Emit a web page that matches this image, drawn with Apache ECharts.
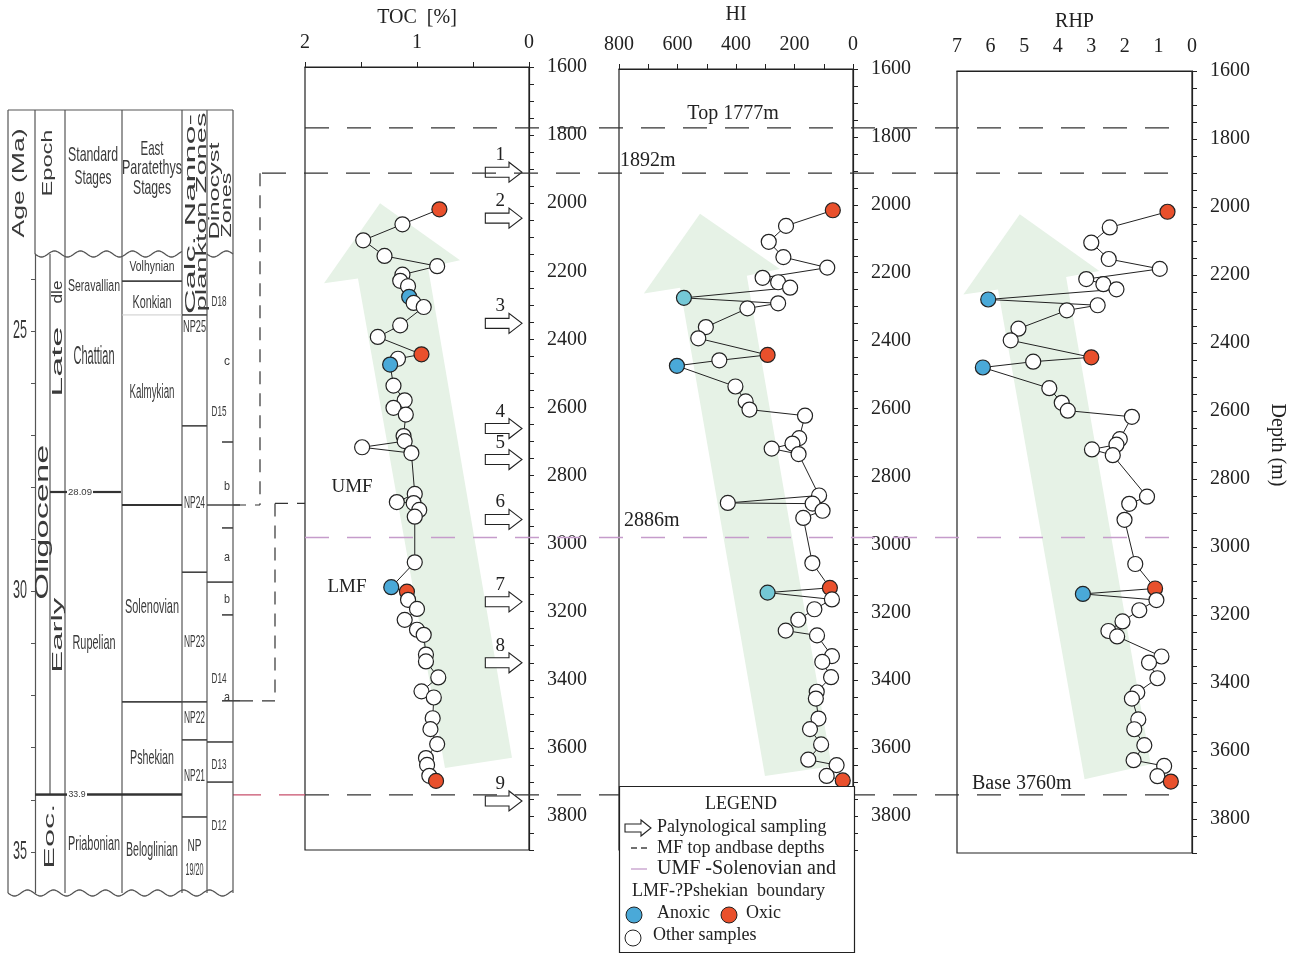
<!DOCTYPE html>
<html><head><meta charset="utf-8">
<script src="https://cdn.jsdelivr.net/npm/echarts@6/dist/echarts.min.js"></script>
<style>html,body{margin:0;padding:0;background:#fff}#c{width:1299px;height:955px}</style>
</head><body><div id="c"></div><script>
// ---------------- DATA ----------------
// sample class: n = other, a = anoxic, c = anoxic (light), o = oxic
const tocDepth = [2018,2062,2109,2155,2185,2210,2228,2244,2275,2293,2305,2359,2393,2444,2457,2474,2536,2579,2601,2621,2684,2699,2717,2734,2854,2878,2881,2901,2921,3055,3128,3141,3165,3192,3224,3253,3268,3326,3346,3393,3434,3452,3513,3545,3589,3630,3650,3682,3697];
const tocValue = [0.80,1.13,1.48,1.29,0.82,1.13,1.15,1.08,1.07,1.03,0.94,1.15,1.35,0.96,1.17,1.24,1.21,1.11,1.21,1.10,1.12,1.11,1.49,1.05,1.02,1.18,1.03,0.98,1.02,1.02,1.23,1.09,1.08,1.00,1.11,1.00,0.94,0.92,0.92,0.81,0.96,0.85,0.86,0.88,0.82,0.92,0.91,0.89,0.83];
const tocClass = ['o','n','n','n','n','n','n','n','a','n','n','n','n','o','n','a','n','n','n','n','n','n','n','n','n','n','n','n','n','n','a','o','n','n','n','n','n','n','n','n','n','n','n','n','n','n','n','n','o'];

const hiDepth = [2016,2062,2109,2154,2185,2215,2228,2244,2274,2290,2305,2360,2393,2442,2458,2474,2535,2579,2603,2621,2687,2703,2718,2734,2856,2878,2880,2901,2922,3055,3128,3142,3162,3191,3222,3254,3268,3329,3346,3391,3434,3454,3513,3544,3589,3634,3650,3682,3695];
const hiValue = [69,229,288,238,88,309,256,215,578,256,361,503,529,292,457,602,402,367,354,164,184,207,278,186,116,428,138,104,170,139,79,292,72,132,187,230,123,72,105,75,124,127,118,147,109,153,56,90,35];
const hiClass = ['o','n','n','n','n','n','n','n','c','n','n','n','n','o','n','a','n','n','n','n','n','n','n','n','n','n','n','n','n','n','o','c','n','n','n','n','n','n','n','n','n','n','n','n','n','n','n','n','o'];

const rhpDepth = [2014,2060,2105,2153,2182,2212,2227,2242,2272,2289,2304,2358,2392,2442,2455,2472,2533,2576,2599,2617,2683,2699,2713,2730,2852,2873,2920,3050,3122,3138,3156,3186,3219,3247,3263,3322,3340,3386,3428,3446,3507,3536,3583,3627,3644,3674,3690];
const rhpValue = [0.73,2.45,3.00,2.48,0.96,3.15,2.64,2.25,6.07,2.81,3.73,5.17,5.40,3.00,4.73,6.23,4.25,3.88,3.70,1.79,2.15,2.25,2.98,2.36,1.34,1.87,2.01,1.69,1.10,3.25,1.06,1.57,2.07,2.49,2.23,0.91,1.28,1.03,1.63,1.79,1.60,1.72,1.42,1.74,0.83,1.03,0.63];
const rhpClass = ['o','n','n','n','n','n','n','n','a','n','n','n','n','o','n','a','n','n','n','n','n','n','n','n','n','n','n','n','o','a','n','n','n','n','n','n','n','n','n','n','n','n','n','n','n','n','o'];

// palynological sampling depths (m) and their numbers
const samplingDepth = [1909,2044,2353,2662,2753,2929,3171,3350,3756];
const samplingLabel = ['1','2','3','4','5','6','7','8','9'];

// marker-fauna depth lines (m) and labels
const mfTopDepth = 1779, mfTopLabel = 'Top 1777m';
const mf2Depth = 1912, mf2Label = '1892m';
const boundaryDepth = 2982, boundaryLabel = '2886m';
const mfBaseDepth = 3738, mfBaseLabel = 'Base 3760m';
const umfBaseDepth = 2882;

// trend arrows (value, depth) outlines
const arrowToc = [[1.33,2000],[0.616,2168],[0.902,2188],[0.152,3629],[0.75,3659],[1.527,2221],[1.83,2235]];
const arrowHi  = [[523,2026],[250,2189],[363,2209],[73,3653],[301,3682],[591,2244],[715,2261]];
const arrowRhp = [[5.13,2021],[2.76,2188],[3.75,2206],[1.23,3639],[3.20,3683],[5.78,2243],[6.81,2257]];

// stratigraphic column (ages in Ma)
const ageTicks = [24,25,26,27,28,29,30,31,32,33,34,35];
const ageLabels = [25,30,35];
const stdStageNames = ['Seravallian','Chattian','Rupelian','Priabonian'];
const stdStageAges  = [24.15,25.5,30.99,34.87];
const paraStageNames = ['Volhynian','Konkian','Kalmykian','Solenovian','Pshekian','Beloglinian'];
const paraStageAges  = [23.77,24.46,26.19,30.30,33.2,34.96];
const paraBounds = [24.04,32.12];
const konkianBase = 24.69;
const kalmykianBase = 28.34;
const nannoNames = ['NP25','NP24','NP23','NP22','NP21','NP','19/20'];
const nannoAges  = [24.92,28.3,30.97,32.43,33.56,34.89,35.35];
const nannoBounds = [24.69,26.82,29.63,32.12,32.85,34.33];
const dinoNames = ['D18','c','D15','b','a','b','D14','a','D13','D12'];
const dinoAges  = [24.44,25.59,26.55,27.99,29.34,30.16,31.68,32.03,33.33,34.5];
const dinoBounds = [28.34,29.82,32.89,33.66];
const dinoTicks = [27.13,28.78,30.45,32.10];
const epochNames = ['Oligocene','Late','dle','Early','Eoc.'];
const epochAges  = [28.67,25.59,24.25,30.84,34.7];
const lateEarlyAge = 28.09, eoceneOligoceneAge = 33.9;

// ---------------- RENDER ----------------
const SERIF = '"Liberation Serif", "Times New Roman", serif';
const INK = '#222';
const COLORS = {o:'#e9502c', a:'#4aa9d8', c:'#74c8d6', n:'#ffffff'};

const chart = echarts.init(document.getElementById('c'), null, {renderer:'canvas'});

function pointSeries(i, depths, vals, cls) {
  return {
    type:'line', xAxisIndex:i, yAxisIndex:i, z:5,
    data: depths.map((d,k)=>({value:[vals[k], d], itemStyle:{color:COLORS[cls[k]]}})),
    symbol:'circle', symbolSize:15, showSymbol:true,
    lineStyle:{color:INK, width:1},
    itemStyle:{borderColor:INK, borderWidth:1.2},
    emphasis:{disabled:true}, silent:true
  };
}
function arrowSeries(i, pts) {
  return {
    type:'custom', xAxisIndex:i, yAxisIndex:i, z:1, silent:true,
    data:[[0,0]],
    renderItem:(p, api)=>({type:'polygon', shape:{points:pts.map(q=>api.coord(q))}, style:{fill:'#e6f2e6'}})
  };
}
function depthAxis(gi) {
  return {
    type:'value', gridIndex:gi, inverse:true, min:1600, max:3900, interval:200, position:'right',
    axisLine:{show:true, onZero:false, lineStyle:{color:INK, width:1.2}},
    axisTick:{show:true, length:5, lineStyle:{color:INK}},
    minorTick:{show:true, splitNumber:4, length:5, lineStyle:{color:INK}},
    axisLabel:{show:true, margin:18, fontFamily:SERIF, fontSize:20, color:INK, showMaxLabel:false, formatter:v=>String(v)},
    splitLine:{show:false}
  };
}
const topName = {fontFamily:SERIF, fontSize:20, color:INK};

const option = {
  animation:false,
  backgroundColor:'#fff',
  grid:[
    {left:305, top:67, width:224, height:783, show:true, borderColor:INK, borderWidth:1.2},
    {left:619, top:67, width:234, height:783, show:true, borderColor:INK, borderWidth:1.2},
    {left:957, top:71, width:235, height:782, show:true, borderColor:INK, borderWidth:1.2},
    {left:35, top:254, width:198, height:639, show:false}
  ],
  xAxis:[
    {type:'value', gridIndex:0, position:'top', inverse:true, min:0, max:2, interval:0.5,
     axisLine:{show:true, onZero:false, lineStyle:{color:INK, width:1.2}},
     axisTick:{show:true, length:5, lineStyle:{color:INK}},
     axisLabel:{margin:14, fontFamily:SERIF, fontSize:20, color:INK, formatter:v=>Number.isInteger(v)?String(v):''},
     splitLine:{show:false},
     name:'TOC  [%]', nameLocation:'middle', nameGap:38, nameTextStyle:topName},
    {type:'value', gridIndex:1, position:'top', inverse:true, min:0, max:800, interval:100,
     axisLine:{show:true, onZero:false, lineStyle:{color:INK, width:1.2}},
     axisTick:{show:true, length:5, lineStyle:{color:INK}},
     axisLabel:{margin:14, fontFamily:SERIF, fontSize:20, color:INK, formatter:v=>(v%200===0)?String(v):''},
     splitLine:{show:false},
     name:'HI', nameLocation:'middle', nameGap:44, nameTextStyle:topName},
    {type:'value', gridIndex:2, position:'top', inverse:true, min:0, max:7, interval:1,
     axisLine:{show:true, onZero:false, lineStyle:{color:INK, width:1.2}},
     axisTick:{show:false},
     axisLabel:{margin:14, fontFamily:SERIF, fontSize:20, color:INK},
     splitLine:{show:false},
     name:'RHP', nameLocation:'middle', nameGap:37, nameTextStyle:topName},
    {type:'value', gridIndex:3, show:false, min:0, max:1}
  ],
  yAxis:[
    depthAxis(0),
    depthAxis(1),
    depthAxis(2),
    {type:'value', gridIndex:3, inverse:true, min:23.52, max:35.79, position:'left',
     axisLine:{show:true, onZero:false, lineStyle:{color:'#555', width:1.2}},
     axisTick:{show:true, length:4, inside:false, customValues:ageTicks, lineStyle:{color:'#555'}},
     axisLabel:{show:false}, splitLine:{show:false}}
  ],
  series:[
    arrowSeries(0, arrowToc), arrowSeries(1, arrowHi), arrowSeries(2, arrowRhp),
    pointSeries(0, tocDepth, tocValue, tocClass),
    pointSeries(1, hiDepth, hiValue, hiClass),
    pointSeries(2, rhpDepth, rhpValue, rhpClass),
    {type:'custom', xAxisIndex:0, yAxisIndex:0, z:6, silent:true,
     data: samplingDepth.map(d=>[0,d]),
     renderItem:(params, api)=>{
       const d = api.value(1);
       const p0 = api.coord([0.39, d]), p1 = api.coord([0.0625, d]);
       const x0=p0[0], x1=p1[0], y=p0[1], xh=x1-13;
       return {type:'group', children:[
         {type:'polygon', shape:{points:[[x0,y-5],[xh,y-5],[xh,y-10],[x1,y],[xh,y+10],[xh,y+5],[x0,y+5]]},
          style:{fill:'#fff', stroke:INK, lineWidth:1.1}},
         {type:'text', x:x0+15, y:y-17, style:{text:samplingLabel[params.dataIndex], font:'19px '+SERIF, fill:INK, align:'center', verticalAlign:'middle'}}
       ]};
     }}
  ]
};
chart.setOption(option);

// ---------------- ANNOTATIONS ----------------
const yD = d => chart.convertToPixel({yAxisIndex:0}, d);
const yA = a => chart.convertToPixel({yAxisIndex:3}, a);
const G = [];
function L(x1,y1,x2,y2,stroke,w,dash,z){ G.push({type:'line', silent:true, z:z||20, shape:{x1,y1,x2,y2}, style:{stroke, lineWidth:w, lineDash:dash||null}}); }
function T(str,x,y,size,align,rot){ G.push({type:'text', silent:true, z:30, x, y, rotation:rot||0, style:{text:str, font:size+'px '+SERIF, fill:INK, align:align||'left', textAlign:align||'left', verticalAlign:'middle', textVerticalAlign:'middle'}}); }

// depth axis title
T('Depth (m)',1277,445,20,'center',-Math.PI/2);

// dashed depth lines
const DASH=[24,18];
L(305,yD(mfTopDepth),1182,yD(mfTopDepth),'#333',1.3,DASH);
L(262,yD(mf2Depth),1182,yD(mf2Depth),'#333',1.3,DASH);
L(305,yD(boundaryDepth),1182,yD(boundaryDepth),'#c59ccb',1.6,DASH);
L(305,yD(mfBaseDepth),1182,yD(mfBaseDepth),'#333',1.3,DASH);
L(233,yD(mfBaseDepth),305,yD(mfBaseDepth),'#c8506c',1.3,[28,18]);
T(mfTopLabel,733,yD(mfTopDepth)-14,20,'center');
T(mf2Label,620,yD(mf2Depth)-12,20,'left');
T(boundaryLabel,624,yD(boundaryDepth)-17,20,'left');
T(mfBaseLabel,972,yD(mfBaseDepth)-11,20,'left');
T('UMF',352,487,19,'center');
T('LMF',347,587,19,'center');

// brackets linking to column
const BD=[13,9];
L(260,yD(mf2Depth),260,yA(kalmykianBase),'#333',1.2,BD);
L(233,yA(kalmykianBase),260,yA(kalmykianBase),'#333',1.2,BD);
L(275,yD(umfBaseDepth),305,yD(umfBaseDepth),'#333',1.2,BD);
L(275,yD(umfBaseDepth),275,yA(dinoTicks[3]),'#333',1.2,BD);
L(240,yA(dinoTicks[3]),275,yA(dinoTicks[3]),'#333',1.2,BD);

// ---- stratigraphic column ----
const mctx = document.createElement('canvas').getContext('2d');
function CT(str,x,y,w,cap,rot){
  const fs = cap/0.716;
  const font = fs.toFixed(2)+'px "Liberation Sans"';
  mctx.font = font;
  const nat = mctx.measureText(str).width || 1;
  G.push({type:'text', silent:true, z:30, x, y, rotation:rot||0, scaleX:w/nat,
    style:{text:str, font, fill:'#3a3a3a', align:'center', textAlign:'center', verticalAlign:'middle', textVerticalAlign:'middle'}});
}
const CL='#555';
const colTop=110, waveTop=yA(23.52), waveBot=yA(35.79);
L(8,colTop,233,colTop,CL,1.2);
[8,65,122,182,207,233].forEach(x=>L(x,colTop,x,waveBot,CL,1.2));
L(35,colTop,35,waveTop,CL,1.2);
L(50,waveTop,50,yA(eoceneOligoceneAge),CL,1.2);
function wave(xa,xb,y){
  const pts=[]; for(let x=xa;x<=xb;x+=1){pts.push([x, y+3*Math.sin((x-xa)/26*2*Math.PI)]);}
  G.push({type:'polyline', silent:true, z:21, shape:{points:pts}, style:{stroke:CL, lineWidth:1.3, fill:null}});
}
wave(35,182,waveTop); wave(207,233,waveTop); wave(8,233,waveBot);
const yLE=yA(lateEarlyAge), yEO=yA(eoceneOligoceneAge);
L(50,yLE,67,yLE,'#333',2.2); L(93,yLE,121,yLE,'#333',2.2);
L(35,yEO,67,yEO,'#333',2.5); L(87,yEO,182,yEO,'#333',2.5);
CT('28.09',80,yLE,24,7); CT('33.9',77,yEO,17,7);
paraBounds.forEach(a=>L(122,yA(a),182,yA(a),'#444',1.6));
L(122,yA(konkianBase),182,yA(konkianBase),'#ccc',1);
L(122,yA(kalmykianBase),182,yA(kalmykianBase),'#333',2.2);
nannoBounds.forEach(a=>L(182,yA(a),207,yA(a),'#444',1.6));
dinoBounds.forEach((a,i)=>L(207,yA(a),i===0?240:233,yA(a),'#444',1.6));
dinoTicks.forEach((a,i)=>L(222,yA(a),i===3?240:233,yA(a),'#444',1.6));
ageLabels.forEach(v=>CT(String(v),20,yA(v),14,18));
const R=Math.PI/2;
CT('Age (Ma)',19,183,109,12,R);
CT('Epoch',48,163,67,10,R);
CT('Standard',93,155,50,15); CT('Stages',93,178,37,15);
CT('East',152,149,23,15); CT('Paratethys',152,168,60,15); CT('Stages',152,188,38,15);
CT('Calc. Nanno-',191,214,200,11,R); CT('plankton Zones',202,212,199,10,R);
CT('Dinocyst',215,191,97,11,R); CT('Zones',227,205,65,10,R);
const stdW={Seravallian:[52,12],Chattian:[41,19],Rupelian:[43,15],Priabonian:[52,14]};
stdStageNames.forEach((n,i)=>CT(n,94,yA(stdStageAges[i]),stdW[n][0],stdW[n][1]));
const paraW={Volhynian:[45,11],Konkian:[39,13],Kalmykian:[45,14],Solenovian:[54,15],Pshekian:[44,15],Beloglinian:[52,15]};
paraStageNames.forEach((n,i)=>CT(n,152,yA(paraStageAges[i]),paraW[n][0],paraW[n][1]));
nannoNames.forEach((n,i)=>CT(n,194.5,yA(nannoAges[i]),n==='NP'?14:(n==='19/20'?18:(n==='NP25'?23:21)),12));
dinoNames.forEach((n,i)=>{ const big=n.length>1; CT(n,big?219:227,yA(dinoAges[i]),big?15:6,big?11:9); });
const epX={Oligocene:43,Late:57.5,dle:57.5,Early:57.5,'Eoc.':50};
const epW={Oligocene:[155,13],Late:[70,11],dle:[23,11],Early:[75,11],'Eoc.':[65,10]};
epochNames.forEach((n,i)=>CT(n,epX[n],yA(epochAges[i]),epW[n][0],epW[n][1],R));

// ---- legend box ----
G.push({type:'rect', silent:true, z:40, shape:{x:619.5,y:786.5,width:235,height:166}, style:{fill:'#fff', stroke:INK, lineWidth:1.2}});
function LT(str,x,y,size,align){ G.push({type:'text', silent:true, z:42, x, y, style:{text:str, font:size+'px '+SERIF, fill:INK, align:align||'left', textAlign:align||'left', verticalAlign:'middle', textVerticalAlign:'middle'}}); }
LT('LEGEND',741,804,18,'center');
G.push({type:'polygon', silent:true, z:42, shape:{points:[[625,824],[641,824],[641,820],[651,828],[641,836],[641,832],[625,832]]}, style:{fill:'#fff', stroke:INK, lineWidth:1.1}});
LT('Palynological sampling',657,827,18);
G.push({type:'line', silent:true, z:42, shape:{x1:631,y1:848,x2:637,y2:848}, style:{stroke:INK,lineWidth:1.3}});
G.push({type:'line', silent:true, z:42, shape:{x1:641,y1:848,x2:647,y2:848}, style:{stroke:INK,lineWidth:1.3}});
LT('MF top andbase depths',657,848,18);
G.push({type:'line', silent:true, z:42, shape:{x1:631,y1:869,x2:647,y2:869}, style:{stroke:'#c59ccb',lineWidth:1.3}});
LT('UMF -Solenovian and',657,869,20);
LT('LMF-?Pshekian  boundary',632,891,18);
G.push({type:'circle', silent:true, z:42, shape:{cx:634,cy:915,r:8}, style:{fill:COLORS.a, stroke:INK, lineWidth:1}});
LT('Anoxic',657,913,18);
G.push({type:'circle', silent:true, z:42, shape:{cx:729,cy:915,r:8}, style:{fill:COLORS.o, stroke:INK, lineWidth:1}});
LT('Oxic',746,913,18);
G.push({type:'circle', silent:true, z:42, shape:{cx:633,cy:938,r:8}, style:{fill:'#fff', stroke:INK, lineWidth:1}});
LT('Other samples',653,935,18);

chart.setOption({graphic:{elements:G}});
</script></body></html>
